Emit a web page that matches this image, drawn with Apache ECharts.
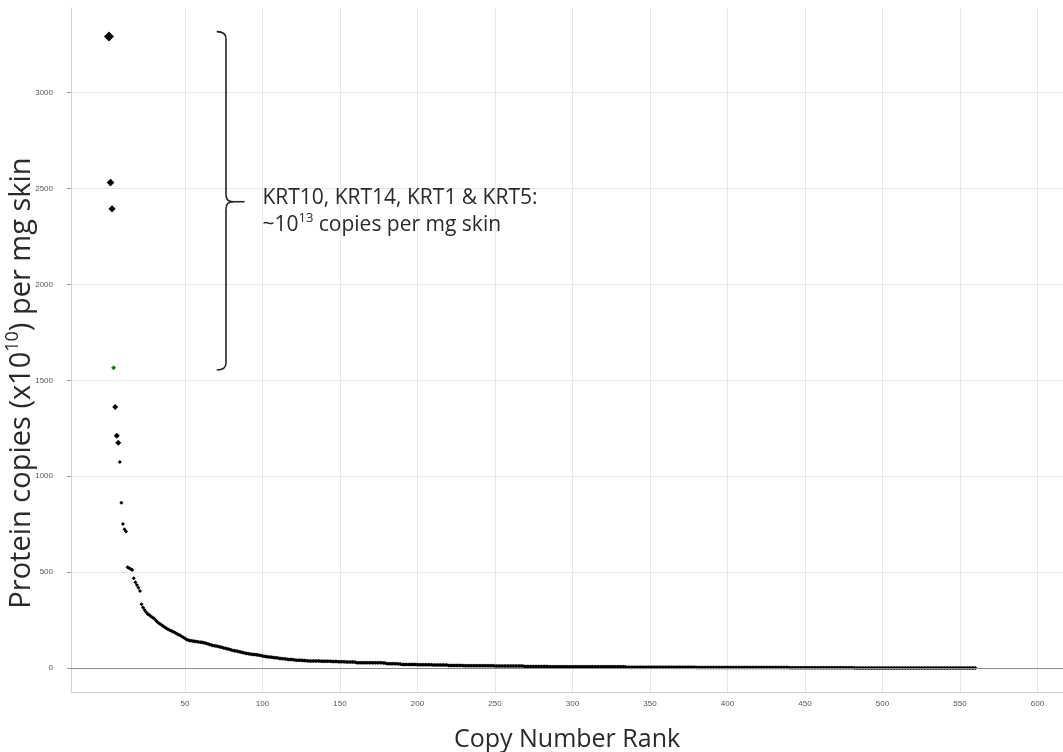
<!DOCTYPE html>
<html>
<head>
<meta charset="utf-8">
<script src="https://cdn.jsdelivr.net/npm/echarts@6/dist/echarts.min.js"></script>
<style>
html,body{margin:0;padding:0;background:#fff;}
#chart{width:1063px;height:752px;}
</style>
</head>
<body>
<div id="chart"></div>
<script>
// Protein copies (x10^10) per mg skin, ordered by copy-number rank (rank = index + 1)
const copyValues = [
  3293,2531,2394,1565,1361,1211,1175,1074,861,751,723,712,
  525,520,516,511,
  468,447,433,418,402,
  332,316,302,291,282,276,270,264,259,
  250,242,235,229,224,218,212,207,202,198,
  194,190,186,182,178,174,169,164,159,155,
  149,146,144,142,141,139,138,137,136,135,
  134,132,130,128,125,122,120,118,116,115,
  113,111,109,107,105,103,101,99,96,94,
  92,90,89,87,85,83,81,79,77,76,
  74,73,72,71,70,69,68,66,65,63,
  61,60,59,58,57,56,55,54,53,52,
  50,49,48,48,47,46,45,45,44,43,
  42,41,41,40,40,39,39,38,38,37,
  37,36,36,36,36,36,36,35,35,35,
  35,35,35,35,34,34,34,34,33,33,
  33,33,33,32,32,32,32,31,31,30,
  28,28,28,28,28,28,28,28,27,27,27,27,27,27,27,27,27,26,26,
  23,22,22,22,22,22,22,22,21,21,
  18,18,18,18,18,18,18,18,18,18,
  17,17,17,17,17,17,17,17,17,17,
  16,16,16,16,16,16,16,16,16,16,
  13,13,13,13,13,13,13,13,13,13,
  12,12,12,12,12,12,12,12,12,12,
  12,12,12,12,12,12,12,12,12,12,
  11,11,11,11,11,11,11,11,11,11,
  11,11,11,11,11,11,11,11,11,
  8,8,8,8,8,8,8,8,8,8,8,8,8,8,8,8,
  7,7,7,7,7,7,7,7,7,7,7,7,7,7,7,
  7,7,7,7,7,7,7,7,7,7,7,7,7,7,7,
  6,6,6,6,6,6,6,6,6,6,6,6,6,6,6,6,6,6,6,6,
  4,4,4,4,4,4,4,4,4,4,4,4,4,4,4,4,4,4,4,4,4,4,4,
  4,4,4,4,4,4,4,4,4,4,4,4,4,4,4,4,4,4,4,4,4,4,
  3,3,3,3,3,3,3,3,3,3,3,3,3,3,3,3,3,3,3,3,
  3,3,3,3,3,3,3,3,3,3,3,3,3,3,3,3,3,3,3,3,
  3,3,3,3,3,3,3,3,3,3,3,3,3,3,3,3,3,3,3,3,
  2,2,2,2,2,2,2,2,2,2,2,2,2,2,2,2,2,2,2,2,2,
  2,2,2,2,2,2,2,2,2,2,2,2,2,2,2,2,2,2,2,2,2,
  0,0,0,0,0,0,0,0,0,0,0,0,0,0,0,0,0,0,0,0,
  0,0,0,0,0,0,0,0,0,0,0,0,0,0,0,0,0,0,0,0,
  0,0,0,0,0,0,0,0,0,0,0,0,0,0,0,0,0,0,0,0,
  0,0,0,0,0,0,0,0,0,0,0,0,0,0,0,0,0,0,0
];
const ranks = copyValues.map((_, i) => i + 1);
const highlightedRank = 4;
const xTickLabels = [50,100,150,200,250,300,350,400,450,500,550,600];
const yTickLabels = [0,500,1000,1500,2000,2500,3000];
const xTitle = 'Copy Number Rank';
const yTitle = 'Protein copies (x10{sup|10}) per mg skin';
const annotationLines = ['KRT10, KRT14, KRT1 & KRT5:', '~10{sup|13} copies per mg skin'];

const chart = echarts.init(document.getElementById('chart'), null, {renderer: 'canvas'});
const gridGray = '#e6e6e6';
const tickFont = 'Liberation Sans';
const titleFont = 'Open Sans';
const textColor = '#2a2a2a';

chart.setOption({
  animation: false,
  backgroundColor: '#ffffff',
  grid: {left: 71, right: 0, top: 8, bottom: 60, containLabel: false, outerBoundsMode: 'none'},
  xAxis: {
    type: 'value', min: -23.5, max: 616.5, splitNumber: 13,
    axisLine: {onZero: false, lineStyle: {color: '#d2d2d2', width: 1}},
    axisTick: {show: false},
    axisLabel: {
      fontSize: 8, color: '#555', fontFamily: tickFont, margin: 8,
      showMinLabel: false, showMaxLabel: false,
      formatter: v => xTickLabels.includes(v) ? String(v) : ''
    },
    splitLine: {
      show: true, showMinLine: false, showMaxLine: false,
      // first drawn split line is at rank 0, which the reference leaves out
      lineStyle: {color: ['rgba(255,255,255,0)'].concat(xTickLabels.map(() => gridGray)), width: 1}
    },
    name: xTitle, nameLocation: 'middle', nameGap: 35,
    nameTextStyle: {fontFamily: titleFont, fontSize: 25, color: textColor}
  },
  yAxis: {
    type: 'value', min: -125, max: 3441, splitNumber: 7,
    axisLine: {show: true, onZero: false, lineStyle: {color: '#d2d2d2', width: 1}},
    axisTick: {show: true, length: 4, lineStyle: {color: '#999'}},
    axisLabel: {
      fontSize: 8, color: '#555', fontFamily: tickFont, margin: 18,
      showMinLabel: false, showMaxLabel: false,
      formatter: v => yTickLabels.includes(v) ? String(v) : ''
    },
    splitLine: {show: true, showMinLine: false, showMaxLine: false, lineStyle: {color: gridGray, width: 1}}
  },
  series: [{
    type: 'scatter',
    data: copyValues.map((v, i) => [ranks[i], v]),
    symbol: 'diamond',
    symbolSize: (val, p) => {
      const v = val[1];
      if (ranks[p.dataIndex] === highlightedRank) return 5;
      if (v > 2000) return v / 330;
      if (v > 1100) return 6;
      return 4;
    },
    itemStyle: {opacity: 1, color: p => ranks[p.dataIndex] === highlightedRank ? '#1d7a1d' : '#000'},
    emphasis: {disabled: true},
    markLine: {
      silent: true, symbol: 'none', label: {show: false},
      lineStyle: {color: '#8c8c8c', width: 1, type: 'solid'},
      data: [{yAxis: 0}]
    },
    z: 3
  }]
});

function px(x, y) { return chart.convertToPixel({gridIndex: 0}, [x, y]); }

// bracket anchored in data space
const br = {hookX: 70.5, spineX: 76.5, tipX: 88.5, top: 3318, mid: 2431, bottom: 1554};
const [hx, ty] = px(br.hookX, br.top);
const [sx, my] = px(br.spineX, br.mid);
const [tx] = px(br.tipX, br.mid);
const by = px(br.spineX, br.bottom)[1];
const r = 7;
const bracketStyle = {stroke: '#222', lineWidth: 1.6, fill: null};
const [ax, ay] = px(100, 2380);

chart.setOption({
  graphic: [
    {type: 'bezierCurve', shape: {x1: hx, y1: ty, cpx1: sx, cpy1: ty, x2: sx, y2: ty + r}, style: bracketStyle},
    {type: 'line', shape: {x1: sx, y1: ty + r, x2: sx, y2: my - r}, style: bracketStyle},
    {type: 'bezierCurve', shape: {x1: sx, y1: my - r, cpx1: sx, cpy1: my, x2: sx + r, y2: my}, style: bracketStyle},
    {type: 'line', shape: {x1: sx + r, y1: my, x2: tx, y2: my}, style: bracketStyle},
    {type: 'bezierCurve', shape: {x1: sx + r, y1: my, cpx1: sx, cpy1: my, x2: sx, y2: my + r}, style: bracketStyle},
    {type: 'line', shape: {x1: sx, y1: my + r, x2: sx, y2: by - r}, style: bracketStyle},
    {type: 'bezierCurve', shape: {x1: sx, y1: by - r, cpx1: sx, cpy1: by, x2: hx, y2: by}, style: bracketStyle},
    {
      type: 'text', x: ax, y: ay,
      style: {
        text: annotationLines.join('\n'),
        fontFamily: titleFont, fontSize: 21, lineHeight: 27, fill: textColor,
        align: 'left', verticalAlign: 'middle',
        rich: {sup: {fontFamily: titleFont, fontSize: 13, lineHeight: 13, verticalAlign: 'top', fill: textColor}}
      }
    },
    {
      type: 'text', x: 22, y: 383, rotation: Math.PI / 2,
      style: {
        text: yTitle,
        fontFamily: titleFont, fontSize: 29, lineHeight: 36, fill: textColor,
        align: 'center', verticalAlign: 'middle',
        rich: {sup: {fontFamily: titleFont, fontSize: 18, lineHeight: 18, verticalAlign: 'top', fill: textColor}}
      }
    }
  ]
});
</script>
</body>
</html>
